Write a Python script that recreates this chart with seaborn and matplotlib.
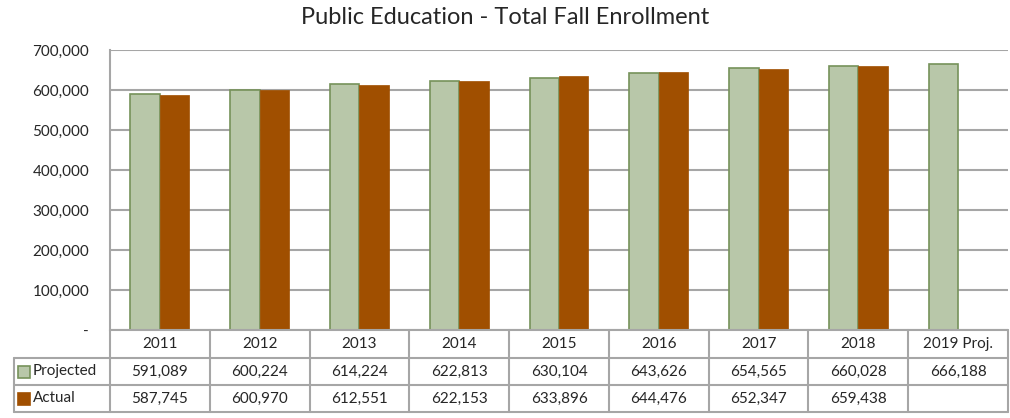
import numpy as np
import pandas as pd
import seaborn as sns
import matplotlib.pyplot as plt
from matplotlib.transforms import blended_transform_factory
from matplotlib.patches import Rectangle
from matplotlib.lines import Line2D

# Enrollment data
years = ["2011", "2012", "2013", "2014", "2015", "2016", "2017", "2018", "2019 Proj."]
projected = [591089, 600224, 614224, 622813, 630104, 643626, 654565, 660028, 666188]
actual = [587745, 600970, 612551, 622153, 633896, 644476, 652347, 659438, np.nan]
series = ["Projected", "Actual"]
y_ticks = [0, 100000, 200000, 300000, 400000, 500000, 600000, 700000]

proj_fill = "#B8C7A9"
proj_edge = "#76925A"
act_fill = "#A04F00"
grid_col = "#A6A6A6"
text_col = "#262626"
fs = 11
fw = "normal"

sns.set_theme(style="white")
plt.rcParams["font.family"] = ["Lato", "DejaVu Sans"]

W, H = 1010, 418
fig = plt.figure(figsize=(W / 100, H / 100), dpi=100)
ax = fig.add_axes([110 / W, 1 - 330 / H, 898 / W, 280 / H])

df = pd.DataFrame({
    "Year": years * 2,
    "Series": [series[0]] * len(years) + [series[1]] * len(years),
    "Enrollment": projected + actual,
})

sns.barplot(data=df, x="Year", y="Enrollment", hue="Series", order=years,
            hue_order=series, palette=[proj_fill, act_fill], width=0.59,
            gap=0, saturation=1, errorbar=None, legend=False, ax=ax)

for p in ax.containers[0]:
    p.set_edgecolor(proj_edge)
    p.set_linewidth(1.2)
for p in ax.containers[1]:
    p.set_edgecolor(act_fill)
    p.set_linewidth(0.5)

ax.set_xlim(-0.5, len(years) - 0.5)
ax.set_ylim(0, 700000)
ax.set_yticks(y_ticks)
ax.set_yticklabels(["-" if v == 0 else f"{v:,}" for v in y_ticks],
                   fontsize=fs, color=text_col, fontweight=fw)
ax.tick_params(axis="y", length=0, pad=15)
ax.set_xticks([])
ax.set_xlabel("")
ax.set_ylabel("")
ax.yaxis.grid(True, color=grid_col, linewidth=1.5)
ax.set_axisbelow(True)
for s in ["top", "right", "bottom"]:
    ax.spines[s].set_visible(False)
ax.spines["left"].set_color(grid_col)
ax.spines["left"].set_linewidth(1.5)

fig.text(0.5, 1 - 18 / H, "Public Education - Total Fall Enrollment",
         ha="center", va="center", fontsize=17, color=text_col, fontweight=fw)

# Data table below the plot area
tr = blended_transform_factory(ax.transData, fig.transFigure)
fy = lambda py: 1 - py / H
fx = lambda px: px / W
x_left = -0.5
x_right = len(years) - 0.5
row_top, row_hdr, row_p, row_a = 330, 358, 385, 412

def hline(py, x0_fig=None):
    if x0_fig is None:
        fig.add_artist(Line2D([x_left, x_right], [fy(py), fy(py)], transform=tr,
                              color=grid_col, lw=1.5, clip_on=False))
    else:
        fig.add_artist(Line2D([x0_fig, ax.get_position().x1], [fy(py), fy(py)],
                              transform=fig.transFigure, color=grid_col, lw=1.5,
                              clip_on=False))

hline(row_top)
for py in (row_hdr, row_p, row_a):
    hline(py, fx(14))

for k in range(len(years) + 1):
    xv = k - 0.5
    fig.add_artist(Line2D([xv, xv], [fy(row_top), fy(row_a)], transform=tr,
                          color=grid_col, lw=1.5, clip_on=False))
fig.add_artist(Line2D([fx(14), fx(14)], [fy(row_hdr), fy(row_a)],
                      transform=fig.transFigure, color=grid_col, lw=1.5))

def cell(x, py, s):
    t = fig.text(0, 0, s, transform=tr, ha="center", va="center",
                 fontsize=fs, color=text_col, fontweight=fw)
    t.set_position((x, fy(py)))

for i, yr in enumerate(years):
    cell(i, (row_top + row_hdr) / 2, yr)
    cell(i, (row_hdr + row_p) / 2, f"{projected[i]:,}")
    if not np.isnan(actual[i]):
        cell(i, (row_p + row_a) / 2, f"{int(actual[i]):,}")

# Legend keys in the row headers
for label, fc, ec, (r0, r1) in [(series[0], proj_fill, proj_edge, (row_hdr, row_p)),
                                (series[1], act_fill, act_fill, (row_p, row_a))]:
    cy = (r0 + r1) / 2
    fig.add_artist(Rectangle((fx(18), fy(cy + 6)), 12 / W, 12 / H,
                             transform=fig.transFigure, facecolor=fc,
                             edgecolor=ec, lw=1.2))
    fig.text(fx(33), fy(cy), label, ha="left", va="center", fontsize=fs,
             color=text_col, fontweight=fw)

fig.savefig("out.png", dpi=100)
